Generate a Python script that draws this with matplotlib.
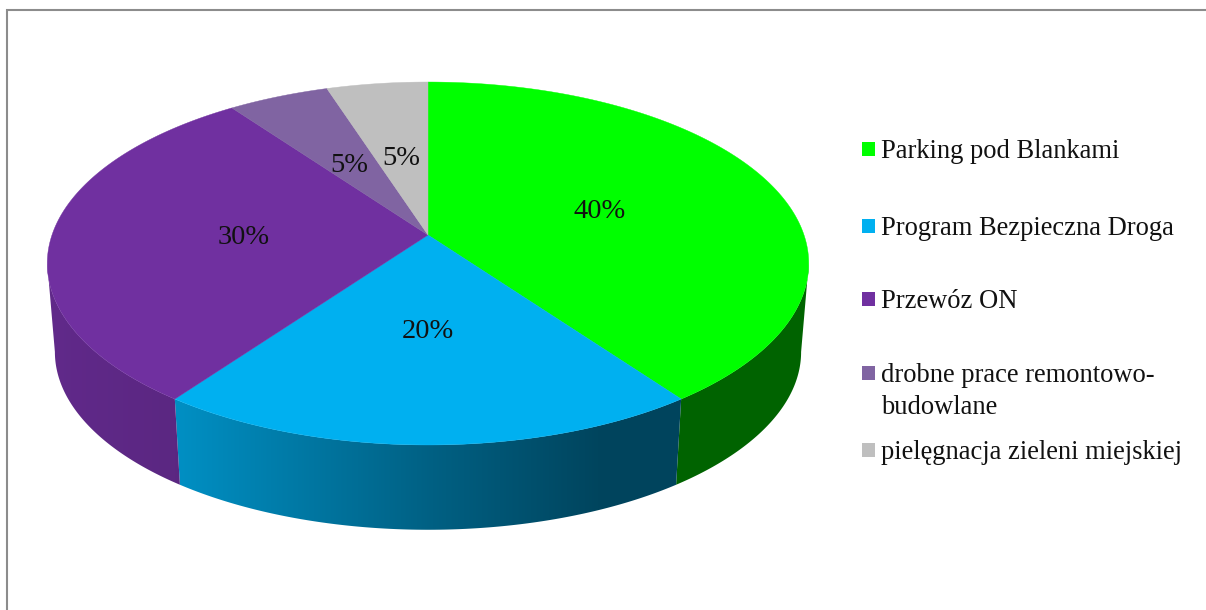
import numpy as np
import matplotlib
matplotlib.use('Agg')
import matplotlib.pyplot as plt
from matplotlib.patches import Polygon, Rectangle

# pie data
categories = ['Parking pod Blankami', 'Program Bezpieczna Droga', 'Przewóz ON',
              'drobne prace remontowo-\nbudowlane', 'pielęgnacja zieleni miejskiej']
values = [40, 20, 30, 5, 5]
colors = ['#00FF00', '#00B0F0', '#7030A0', '#8064A2', '#BFBFBF']
legend_y = [149, 226, 299, 373, 450]

plt.rcParams['font.family'] = ['Liberation Serif', 'DejaVu Serif']

CX = 428
TOP_CY = 235
BOTTOM_CY = 324
A = 376
B = 177
K = 0.157
WALL_SCALE = 0.98


def project(theta, r=1.0, wall=False):
    # theta is clockwise from 12 o'clock, perspective squeeze on the far side
    x = r * np.sin(theta)
    y = r * np.cos(theta)
    w = 1 + K * y
    if wall:
        return CX + WALL_SCALE * A * x / w, BOTTOM_CY - WALL_SCALE * B * y / w
    return CX + A * x / w, TOP_CY - B * y / w


def shade(px):
    return np.interp(px, [57, 181, 428, 600, 809], [0.86, 0.81, 0.55, 0.39, 0.39])


fig = plt.figure(figsize=(12.06, 6.10), dpi=100)
ax = fig.add_axes([0, 0, 1, 1])
ax.axis('off')

# chart frame, only top and left edges are visible in the crop
ax.plot([7, 7, 1206], [610, 10, 10], color='#8c8c8c', lw=1.5, solid_joinstyle='miter')

edges = np.cumsum([0] + values) / sum(values) * 2 * np.pi

# side wall only shows between the two tangent points of the rim
vis_start = np.arccos(-K)
vis_end = 2 * np.pi - vis_start

# horizontal gradient image clipped to each wall piece
for i in range(len(values)):
    t0 = max(edges[i], vis_start)
    t1 = min(edges[i + 1], vis_end)
    if t1 <= t0:
        continue
    th = np.linspace(t0, t1, int(values[i] * 6) + 2)
    x1, y1 = project(th)
    x2, y2 = project(th, wall=True)
    pts = list(zip(x1, y1)) + list(zip(x2[::-1], y2[::-1]))
    left = min(x1.min(), x2.min())
    right = max(x1.max(), x2.max())
    xs = np.linspace(left, right, 200)
    base = np.array(matplotlib.colors.to_rgb(colors[i]))
    grad = base[None, None, :] * shade(xs)[None, :, None]
    im = ax.imshow(grad, extent=(left, right, max(y1.max(), y2.max()), min(y1.min(), y2.min())),
                   aspect='auto', interpolation='bilinear', zorder=1)
    clip = Polygon(pts, closed=True, transform=ax.transData)
    im.set_clip_path(clip)

# top face
for i in range(len(values)):
    th = np.linspace(edges[i], edges[i + 1], int(values[i] * 6) + 2)
    x1, y1 = project(th)
    pts = [(CX, TOP_CY)] + list(zip(x1, y1))
    ax.add_patch(Polygon(pts, closed=True, facecolor=colors[i], edgecolor=colors[i], linewidth=0.3, zorder=2))

# percent labels
for i in range(len(values)):
    mid = (edges[i] + edges[i + 1]) / 2
    px, py = project(mid, r=0.49)
    ax.text(px, py + 3, '%d%%' % values[i], fontsize=20.5, ha='center', va='center', color='#111111', zorder=3)

# legend
for i in range(len(categories)):
    ax.add_patch(Rectangle((862, legend_y[i] - 7), 13, 14, facecolor=colors[i], edgecolor='none'))
    ax.text(881, legend_y[i] - 10, categories[i], fontsize=19.1, ha='left', va='top',
            color='#111111', linespacing=1.36)

ax.set_xlim(0, 1206)
ax.set_ylim(610, 0)

fig.savefig('out.png', dpi=100)
